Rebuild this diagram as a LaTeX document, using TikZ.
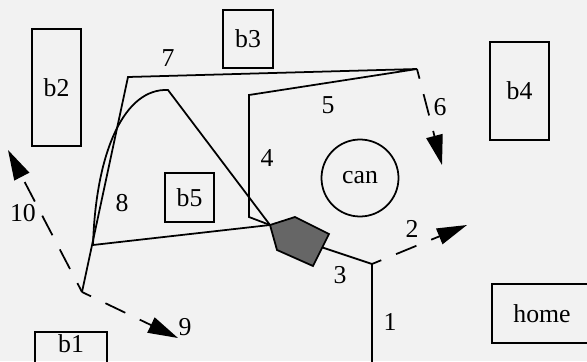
\documentclass[tikz,border=0pt]{standalone}
\usepackage{fontspec}
\setmainfont{Liberation Serif}
\usetikzlibrary{arrows.meta}

\begin{document}
\begin{tikzpicture}[
  x=0.03cm, y=-0.03cm,
  obst/.style={draw, line width=1.5pt, inner sep=0pt, font=\fontsize{22}{26}\selectfont},
  lbl/.style={inner sep=0pt, font=\fontsize{22}{26}\selectfont},
  trail/.style={line width=1.5pt, line join=miter},
  probe/.style={line width=1.5pt, dash pattern=on 0.66cm off 0.48cm, dash phase=0.36cm, -{Triangle[length=9mm, width=5mm]}}
]
\useasboundingbox[fill=black!5] (0,0) rectangle (587,361);
\clip (0,0) rectangle (587,361);

% obstacles
\node[obst, minimum width=2.16cm, text height=0.62cm, text depth=0.5cm, anchor=north] (b1) at (71,331) {b1};
\node[obst, minimum width=1.47cm, minimum height=3.51cm] (b2) at (56.5,87.5) {b2};
\node[obst, minimum width=1.5cm, minimum height=1.74cm] (b3) at (248,39) {b3};
\node[obst, minimum width=1.77cm, minimum height=2.94cm] (b4) at (519.5,91) {b4};
\node[obst, minimum width=1.47cm, minimum height=1.47cm] (b5) at (189.5,197.5) {b5};
\node[obst, minimum width=3cm, minimum height=1.77cm] (home) at (542,313.5) {home};
\node[obst, circle, minimum size=2.31cm] (can) at (360,178) {can};

% path vertices
\coordinate (p0) at (372,370);
\coordinate (p1) at (372,264);
\coordinate (p2) at (300,240);
\coordinate (p3) at (270,225);
\coordinate (p4) at (249,217);
\coordinate (p5) at (249,95);
\coordinate (p6) at (417,69);
\coordinate (p7) at (128,77);
\coordinate (p8) at (82,292);
\coordinate (f1) at (93,245);
\coordinate (f2) at (168,90);

% probe targets
\coordinate (q2) at (467,225);
\coordinate (q6) at (442,165);
\coordinate (q9) at (178,338);
\coordinate (q10) at (8,150);

% field of view
\draw[trail] (f1) .. controls (96,150) and (125,88) .. (f2) -- (p3) -- (f1);

% trail
\draw[trail] (p0) -- (p1) -- (p2);
\draw[trail] (p3) -- (p4) -- (p5) -- (p6) -- (p7) -- (p8);

% robot
\draw[line width=1.5pt, fill=black!60] (270,225) -- (295,217) -- (329,234) -- (313,266) -- (277,250) -- cycle;

% probes
\draw[probe] (p1) -- (q2);
\draw[probe] (p6) -- (q6);
\draw[probe] (p8) -- (q9);
\draw[probe] (p8) -- (q10);

% labels
\node[lbl] (l1) at (390,322) {1};
\node[lbl] (l2) at (412,229) {2};
\node[lbl] (l3) at (340,275) {3};
\node[lbl] (l4) at (267,158) {4};
\node[lbl] (l5) at (328,105) {5};
\node[lbl] (l6) at (440,107) {6};
\node[lbl] (l7) at (168,58) {7};
\node[lbl] (l8) at (122,203) {8};
\node[lbl] (l9) at (185,327) {9};
\node[lbl] (l10) at (23,213) {10};
\end{tikzpicture}
\end{document}
